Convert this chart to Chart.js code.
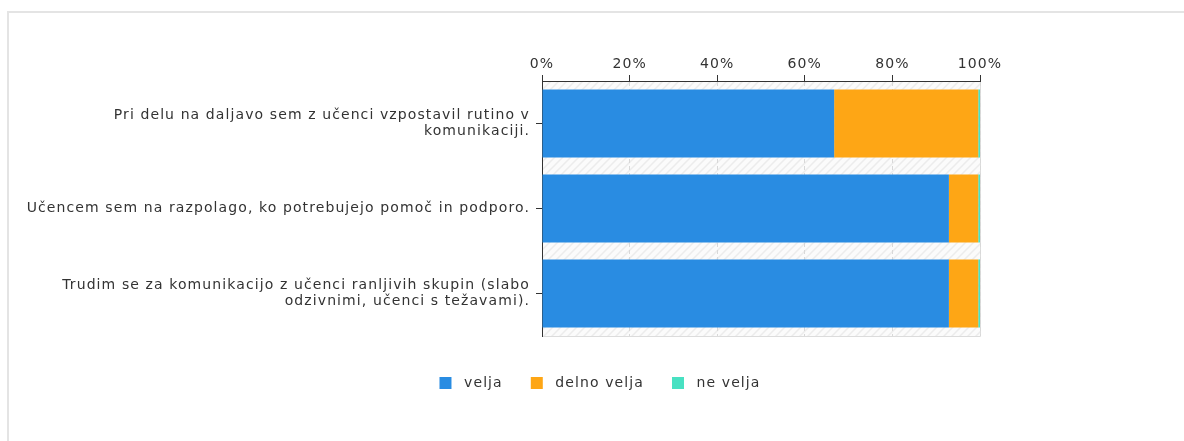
<!DOCTYPE html>
<html>
<head>
<meta charset="utf-8">
<script src="https://cdn.jsdelivr.net/npm/chart.js@4/dist/chart.umd.min.js"></script>
<style>
  body { margin: 0; background: #fff; }
  #frame { position: absolute; left: 7px; top: 11px; width: 1200px; height: 500px; border: 2px solid #e4e4e4; }
  #wrap { position: absolute; left: 0; top: 0; width: 1184px; height: 441px; }
</style>
</head>
<body>
<div id="frame"></div>
<div id="wrap"><canvas id="myChart" width="1184" height="441"></canvas></div>
<script>
// data (percent of answers)
const categories = [
    ["Pri delu na daljavo sem z učenci vzpostavil rutino v", "komunikaciji."],
    "Učencem sem na razpolago, ko potrebujejo pomoč in podporo.",
    ["Trudim se za komunikacijo z učenci ranljivih skupin (slabo", "odzivnimi, učenci s težavami)."]
];
const seriesNames = ["velja", "delno velja", "ne velja"];
const veljaValues = [66.7, 92.9, 92.9];
const delnoValues = [32.9, 6.7, 6.7];
const neValues = [0.4, 0.4, 0.4];
const xTicks = [0, 20, 40, 60, 80, 100];

const colors = ["#298ce2", "#fea615", "#48e1c2"];
const fontFamily = "'DejaVu Sans', Verdana, sans-serif";

function hatchPattern(ctx) {
    const c = document.createElement("canvas");
    c.width = 8; c.height = 8;
    const p = c.getContext("2d");
    p.fillStyle = "#fbfbfb";
    p.fillRect(0, 0, 8, 8);
    p.strokeStyle = "#ececec";
    p.lineWidth = 1.5;
    p.beginPath();
    p.moveTo(0, 8); p.lineTo(8, 0);
    p.moveTo(-2, 2); p.lineTo(2, -2);
    p.moveTo(6, 10); p.lineTo(10, 6);
    p.stroke();
    return ctx.createPattern(c, "repeat");
}

// the original text is a wide verdana-like face, so widen the letters a bit
const wideText = {
    id: "wideText",
    beforeLayout(chart) { chart.ctx.letterSpacing = "1.1px"; },
    beforeDraw(chart) { chart.ctx.letterSpacing = "1.1px"; }
};

// legend in the original sits a bit right of the canvas centre
const legendShift = {
    id: "legendShift",
    afterLayout(chart) {
        chart.legend.left += 110;
        chart.legend.right += 110;
    }
};

const plotBackground = {
    id: "plotBackground",
    beforeDraw(chart) {
        const a = chart.chartArea;
        const ctx = chart.ctx;
        ctx.save();
        ctx.fillStyle = hatchPattern(ctx);
        ctx.fillRect(a.left, a.top, a.right - a.left, a.bottom - a.top);
        ctx.strokeStyle = "#dcdcdc";
        ctx.lineWidth = 1;
        ctx.beginPath();
        ctx.moveTo(a.left, a.bottom + 0.5);
        ctx.lineTo(a.right + 0.5, a.bottom + 0.5);
        ctx.lineTo(a.right + 0.5, a.top);
        ctx.stroke();
        ctx.restore();
    }
};

let myChart = document.getElementById("myChart").getContext("2d");
new Chart(myChart, {
    type: "bar",
    data: {
        labels: categories,
        datasets: [
            { label: seriesNames[0], data: veljaValues, backgroundColor: colors[0] },
            { label: seriesNames[1], data: delnoValues, backgroundColor: colors[1] },
            { label: seriesNames[2], data: neValues, backgroundColor: colors[2] }
        ]
    },
    options: {
        indexAxis: "y",
        responsive: false,
        animation: false,
        datasets: { bar: { barPercentage: 0.8, categoryPercentage: 1.0, borderWidth: 0 } },
        layout: { padding: { left: 0, right: 204, top: 45, bottom: 41 } },
        scales: {
            x: {
                position: "top",
                stacked: true,
                min: 0,
                max: 100,
                afterBuildTicks: (s) => { s.ticks = xTicks.map(v => ({ value: v })); },
                afterFit: (s) => { s.height = 36; },
                ticks: { callback: (v) => v + "%", color: "#333", padding: 2, font: { family: fontFamily, size: 14 } },
                grid: { color: "#d8d8d8", tickColor: "#333", tickLength: 6 },
                border: { display: true, color: "#333", width: 1, dash: [4, 3] }
            },
            gap: {
                type: "linear",
                position: "bottom",
                display: true,
                afterFit: (s) => { s.height = 12; },
                ticks: { display: false },
                grid: { display: false },
                border: { display: false }
            },
            y: {
                stacked: true,
                afterFit: (s) => { s.width = 542; },
                ticks: { color: "#333", padding: 6, font: { family: fontFamily, size: 14, lineHeight: 1.1 } },
                grid: { drawOnChartArea: false, offset: false, tickColor: "#333", tickLength: 6 },
                border: { display: true, color: "#333", width: 1 }
            }
        },
        plugins: {
            legend: {
                position: "bottom",
                labels: {
                    boxWidth: 12, boxHeight: 12, padding: 28, color: "#333",
                    font: { family: fontFamily, size: 14 },
                    generateLabels: (chart) => Chart.defaults.plugins.legend.labels.generateLabels(chart)
                        .map(l => Object.assign(l, { text: " " + l.text }))
                }
            },
            tooltip: { enabled: false }
        }
    },
    plugins: [wideText, legendShift, plotBackground]
});
</script>
</body>
</html>
